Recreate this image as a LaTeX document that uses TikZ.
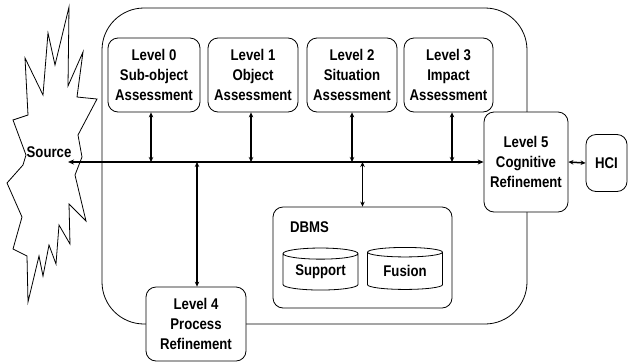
\documentclass[tikz,border=0pt]{standalone}
\usepackage{fontspec}
\setmainfont{Liberation Sans}[FakeStretch=0.85]
\usetikzlibrary{arrows.meta,shapes.geometric}
\begin{document}
\begin{tikzpicture}[x=1pt,y=-1pt,
  lbl/.style={font=\bfseries\fontsize{15.5}{20}\selectfont, align=center},
  lvl/.style={lbl, draw, fill=white, rounded corners=10pt, line width=0.8pt, inner sep=0pt},
  db/.style={lbl, draw, fill=white, cylinder, shape border rotate=90, aspect=0.22, line width=0.8pt, inner sep=0pt},
  conn/.style={line width=1.5pt, {Stealth[length=5pt,width=4.5pt]}-{Stealth[length=5pt,width=4.5pt]}},
  mainline/.style={line width=1.8pt, {Stealth[length=6pt,width=5pt]}-{Stealth[length=6pt,width=5pt]}}]
\useasboundingbox (0,0) rectangle (628,362);
% outer frame
\node[draw, line width=0.8pt, rounded corners=42pt, minimum width=425pt, minimum height=316pt, inner sep=0pt] (frame) at (314.5,166) {};
% source starburst
\draw[line width=0.8pt] (69,7) -- (68,86) -- (83,52) -- (77,97) -- (97,99) -- (78,135) -- (82,157) -- (75,175)
  -- (86,221) -- (69,204) -- (70,244) -- (59,225) -- (56,264) -- (49,245) -- (43,276) -- (39,256) -- (28,302)
  -- (27,256) -- (13,249) -- (22,217) -- (7,183) -- (23,165) -- (26,155) -- (13,120) -- (28,115) -- (25,58)
  -- (43,95) -- (48,33) -- (55,65) -- cycle;
\node[lbl, inner sep=0pt] (src) at (49,152) {Source};
\coordinate (srcpt) at (68,162);
% levels
\node[lvl, minimum width=92pt, minimum height=74pt] (l0) at (154,75) {Level 0\\Sub-object\\Assessment};
\node[lvl, minimum width=90pt, minimum height=74pt] (l1) at (253,75) {Level 1\\Object\\Assessment};
\node[lvl, minimum width=90pt, minimum height=74pt] (l2) at (352,75) {Level 2\\Situation\\Assessment};
\node[lvl, minimum width=89pt, minimum height=74pt] (l3) at (448.5,75) {Level 3\\Impact\\Assessment};
\node[lvl, minimum width=84pt, minimum height=100pt] (l5) at (526,162) {Level 5\\Cognitive\\Refinement};
\node[lvl, minimum width=41pt, minimum height=57pt] (hci) at (606.5,163) {HCI};
\node[lvl, minimum width=100pt, minimum height=74pt] (l4) at (196,324) {Level 4\\Process\\Refinement};
% DBMS
\node[draw, fill=white, rounded corners=10pt, line width=0.8pt, minimum width=179pt, minimum height=101pt, inner sep=0pt] (dbms) at (362.5,257.5) {};
\node[lbl, anchor=west, inner sep=0pt] (dbmslbl) at (290,227) {DBMS};
\node[db, minimum width=75pt, minimum height=42pt] (sup) at (320.5,272) {Support};
\node[db, minimum width=75pt, minimum height=42pt] (fus) at (405,271) {Fusion};
% connectors
\draw[mainline] (srcpt) -- (l5.west |- srcpt);
\draw[conn] ([xshift=-3pt]l0.south) -- ([xshift=-3pt]l0.south |- srcpt);
\draw[conn] ([xshift=-2pt]l1.south) -- ([xshift=-2pt]l1.south |- srcpt);
\draw[conn] (l2.south) -- (l2.south |- srcpt);
\draw[conn] ([xshift=3.5pt]l3.south) -- ([xshift=3.5pt]l3.south |- srcpt);
\draw[conn] ([xshift=1pt]l4.north |- srcpt) -- ([xshift=1pt]l4.north);
\draw[conn] (dbms.north |- srcpt) -- (dbms.north);
\draw[conn] (l5.east) -- (hci.west);
\end{tikzpicture}
\end{document}
